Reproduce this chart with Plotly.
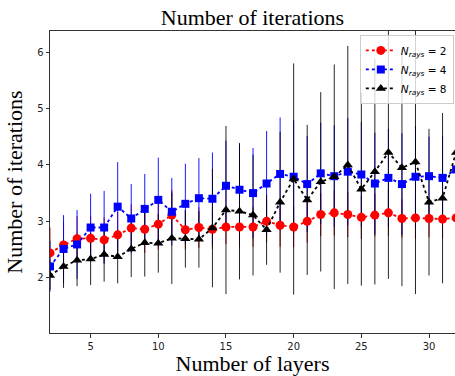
import plotly.graph_objects as go

layers = list(range(2, 33))

iters_n2 = [2.44, 2.58, 2.69, 2.70, 2.67, 2.76, 2.88, 2.86, 2.95, 3.11, 2.85, 2.89, 2.86, 2.90, 2.90, 2.90,
            3.00, 2.93, 2.90, 3.00, 3.12, 3.15, 3.12, 3.07, 3.11, 3.15, 3.05, 3.06, 3.05, 3.04, 3.06]
err_n2 = [0.45, 0.42, 0.40, 0.40, 0.40, 0.40, 0.42, 0.42, 0.45, 0.45, 0.35, 0.36, 0.35, 0.30, 0.36, 0.35,
          0.38, 0.38, 0.36, 0.38, 0.38, 0.40, 0.40, 0.38, 0.38, 0.41, 0.34, 0.37, 0.33, 0.35, 0.35]

iters_n4 = [2.20, 2.51, 2.59, 2.89, 2.89, 3.26, 3.05, 3.22, 3.38, 3.17, 3.31, 3.41, 3.40, 3.63, 3.56, 3.50,
            3.67, 3.84, 3.79, 3.66, 3.85, 3.80, 3.88, 3.83, 3.67, 3.77, 3.66, 3.79, 3.80, 3.77, 3.92]
err_n4 = [0.45, 0.60, 0.61, 0.60, 0.65, 0.79, 0.61, 0.62, 0.75, 0.60, 0.71, 0.71, 0.82, 0.80, 0.80, 0.80,
          0.93, 1.00, 1.00, 0.85, 0.90, 0.90, 0.95, 0.93, 0.90, 0.87, 0.90, 0.90, 0.70, 0.75, 0.80]

iters_n8 = [2.04, 2.20, 2.31, 2.33, 2.41, 2.37, 2.51, 2.62, 2.61, 2.70, 2.69, 2.68, 2.88, 3.20, 3.18, 3.11,
            2.85, 3.34, 3.75, 3.38, 3.70, 3.79, 4.00, 3.57, 3.88, 4.22, 3.95, 4.05, 3.34, 3.41, 4.22]
err_n8 = [0.25, 0.38, 0.46, 0.46, 0.48, 0.47, 0.50, 0.60, 0.52, 0.81, 0.51, 0.50, 1.05, 1.49, 1.21, 1.07,
          0.62, 1.25, 2.05, 1.33, 1.59, 1.99, 2.11, 1.71, 2.00, 2.24, 2.10, 2.34, 1.30, 1.51, 1.50]

labels = ["<i>N</i><sub><i>rays</i></sub> = 2", "<i>N</i><sub><i>rays</i></sub> = 4",
          "<i>N</i><sub><i>rays</i></sub> = 8"]

series = [
    (iters_n2, err_n2, "red", "rgba(200,0,0,0.9)", "circle", labels[0]),
    (iters_n4, err_n4, "blue", "rgba(0,0,255,0.9)", "square", labels[1]),
    (iters_n8, err_n8, "black", "rgba(0,0,0,0.85)", "triangle-up", labels[2]),
]

fig = go.Figure()

# error bars first (below all markers)
for ys, es, col, ecol, sym, name in series:
    fig.add_trace(go.Scatter(
        x=layers, y=ys, mode="markers",
        marker=dict(size=1, color="rgba(0,0,0,0)"),
        error_y=dict(type="data", array=es, visible=True, color=ecol, thickness=1, width=0),
        showlegend=False, hoverinfo="skip"))

for ys, es, col, ecol, sym, name in series:
    fig.add_trace(go.Scatter(
        x=layers, y=ys, mode="lines+markers", name=name,
        line=dict(color=col, dash="dot", width=1.8),
        marker=dict(symbol=sym, size=9 if sym != "square" else 8, color=col, line=dict(width=0))))

axis_common = dict(
    showline=True, linecolor="#333", linewidth=1, mirror=True,
    ticks="outside", ticklen=3.5, tickwidth=1, tickcolor="#333",
    showgrid=False, zeroline=False,
    tickfont=dict(family="DejaVu Sans", size=10, color="#222"),
)

fig.update_layout(
    width=455, height=376,
    margin=dict(l=50, r=0, t=31, b=43, autoexpand=False),
    paper_bgcolor="white", plot_bgcolor="white",
    title=dict(text="Number of iterations", x=0.5, xref="paper", xanchor="center",
               y=0.955, yref="container", yanchor="middle",
               font=dict(family="Liberation Serif", size=22, color="black")),
    xaxis=dict(range=[2, 31.92], tickvals=[5, 10, 15, 20, 25, 30],
               title=dict(text="Number of layers", standoff=2,
                          font=dict(family="Liberation Serif", size=22, color="black")),
               **axis_common),
    yaxis=dict(range=[1.02, 6.374], tickvals=[2, 3, 4, 5, 6],
               title=dict(text="Number of iterations", standoff=8,
                          font=dict(family="Liberation Serif", size=22, color="black")),
               **axis_common),
    legend=dict(x=0.765, y=0.987, xanchor="left", yanchor="top",
                bgcolor="rgba(255,255,255,0.8)", bordercolor="#ccc", borderwidth=1,
                font=dict(family="DejaVu Sans", size=10.5, color="black"),
                tracegroupgap=0, itemwidth=30),
    showlegend=True,
)

fig.write_html("out.html", config={"displayModeBar": False},
               post_script="document.body.style.margin='0';document.body.style.padding='0';")
